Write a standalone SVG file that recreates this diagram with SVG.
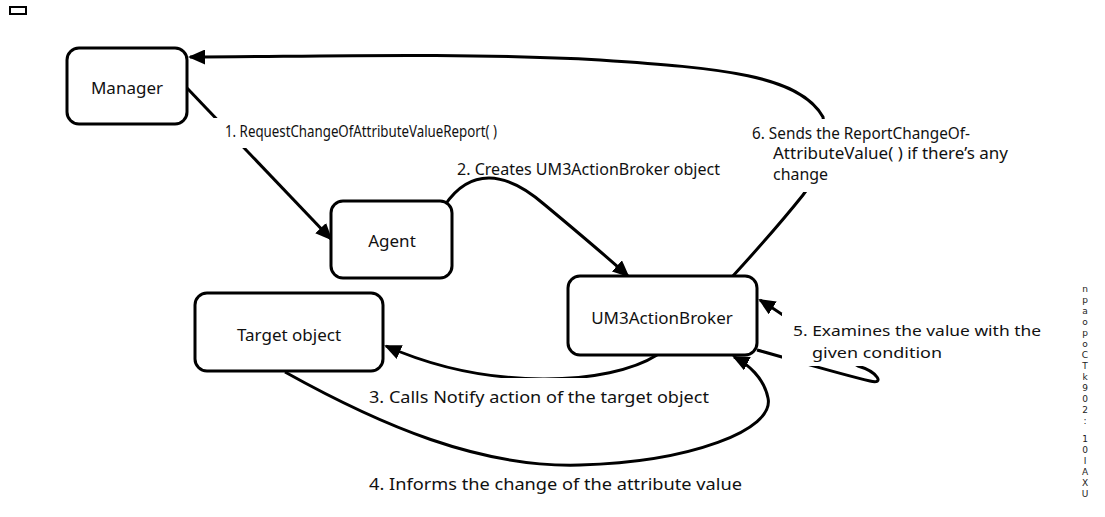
<svg xmlns="http://www.w3.org/2000/svg" width="1105" height="517" viewBox="0 0 1105 517">
<style>
.node rect{fill:#fff;stroke:#000;stroke-width:3}
.ntext{font-family:"Noto Sans","Open Sans",sans-serif;font-size:17px;fill:#111;text-anchor:middle;dominant-baseline:central}
.lbl{font-family:"Noto Sans","Open Sans",sans-serif;font-size:16px;fill:#111}
.lbl5{font-family:"Noto Sans","Open Sans",sans-serif;font-size:15px;fill:#111}
.conn{fill:none;stroke:#000;stroke-width:3}
.bg{fill:#fff}
.vt{font-family:"DejaVu Sans",sans-serif;font-size:9px;fill:#222;text-anchor:middle}
</style>
<defs>
<marker id="arr" markerUnits="userSpaceOnUse" markerWidth="17" markerHeight="15" refX="15" refY="7.5" orient="auto"><path d="M0,0 L17,7.5 L0,15 z" fill="#000"/></marker>
</defs>
<rect x="10" y="7" width="16" height="7" fill="none" stroke="#000" stroke-width="2"/>
<g id="connectors">
<g id="c6"><path class="conn" d="M732,277 Q775,230 803,195 Q830,160 823,117 C800,75 720,68 600,60 C450,52 300,57 190,57" marker-end="url(#arr)"/>
<rect class="bg" x="748" y="119" width="265" height="73"/>
<text class="lbl" x="752" y="139" textLength="218" lengthAdjust="spacingAndGlyphs">6. Sends the ReportChangeOf-</text>
<text class="lbl" x="773" y="159" textLength="235" lengthAdjust="spacingAndGlyphs">AttributeValue( ) if there’s any</text>
<text class="lbl" x="773" y="180" textLength="55" lengthAdjust="spacingAndGlyphs">change</text></g>
<g id="c1"><path class="conn" d="M187,88 L331,239" marker-end="url(#arr)"/>
<rect class="bg" x="210" y="118" width="292" height="30"/>
<text class="lbl" x="225" y="137" textLength="272" lengthAdjust="spacingAndGlyphs">1. RequestChangeOfAttributeValueReport( )</text></g>
<g id="c2"><path class="conn" d="M445,205 C470,168 505,170 545,205 C575,230 605,255 628,276" marker-end="url(#arr)"/>
<text class="lbl" x="457" y="175" textLength="263" lengthAdjust="spacingAndGlyphs">2. Creates UM3ActionBroker object</text></g>
<g id="c3"><path class="conn" d="M657,355 C610,385 490,392 386,346" marker-end="url(#arr)"/>
<rect class="bg" x="365" y="378" width="350" height="30"/>
<text class="lbl" x="369" y="403" textLength="340" lengthAdjust="spacingAndGlyphs">3. Calls Notify action of the target object</text></g>
<g id="c4"><path class="conn" d="M285,372 C380,425 480,468 580,465 C690,462 775,430 768,398 C764,378 748,364 734,357" marker-end="url(#arr)"/>
<text class="lbl" x="369" y="490" textLength="373" lengthAdjust="spacingAndGlyphs">4. Informs the change of the attribute value</text></g>
<g id="c5"><path class="conn" d="M757,350 C800,362 840,374 870,381 C885,385 878,372 858,366 C830,350 800,325 760,300" marker-end="url(#arr)"/>
<rect class="bg" x="782" y="313" width="263" height="53"/>
<text class="lbl5" x="793" y="336" textLength="248" lengthAdjust="spacingAndGlyphs">5. Examines  the value with the</text>
<text class="lbl5" x="812" y="358" textLength="130" lengthAdjust="spacingAndGlyphs">given condition</text></g>
</g>
<g id="manager" class="node"><rect x="67" y="48" width="120" height="76" rx="12"/><text class="ntext" x="127" y="87">Manager</text></g>
<g id="agent" class="node"><rect x="331" y="201" width="121" height="77" rx="12"/><text class="ntext" x="392" y="240">Agent</text></g>
<g id="target" class="node"><rect x="195" y="293" width="188" height="78" rx="12"/><text class="ntext" x="289" y="334">Target object</text></g>
<g id="broker" class="node"><rect x="568" y="276" width="189" height="79" rx="12"/><text class="ntext" x="662" y="317">UM3ActionBroker</text></g>
<text class="vt" x="1085"><tspan x="1085" y="292">n</tspan><tspan x="1085" y="303">p</tspan><tspan x="1085" y="314">a</tspan><tspan x="1085" y="325">o</tspan><tspan x="1085" y="336">p</tspan><tspan x="1085" y="347">o</tspan><tspan x="1085" y="358">C</tspan><tspan x="1085" y="369">T</tspan><tspan x="1085" y="380">k</tspan><tspan x="1085" y="391">9</tspan><tspan x="1085" y="402">0</tspan><tspan x="1085" y="413">2</tspan><tspan x="1085" y="424">:</tspan><tspan x="1085" y="442">1</tspan><tspan x="1085" y="453">0</tspan><tspan x="1085" y="464">I</tspan><tspan x="1085" y="475">A</tspan><tspan x="1085" y="486">X</tspan><tspan x="1085" y="497">U</tspan></text>
</svg>
